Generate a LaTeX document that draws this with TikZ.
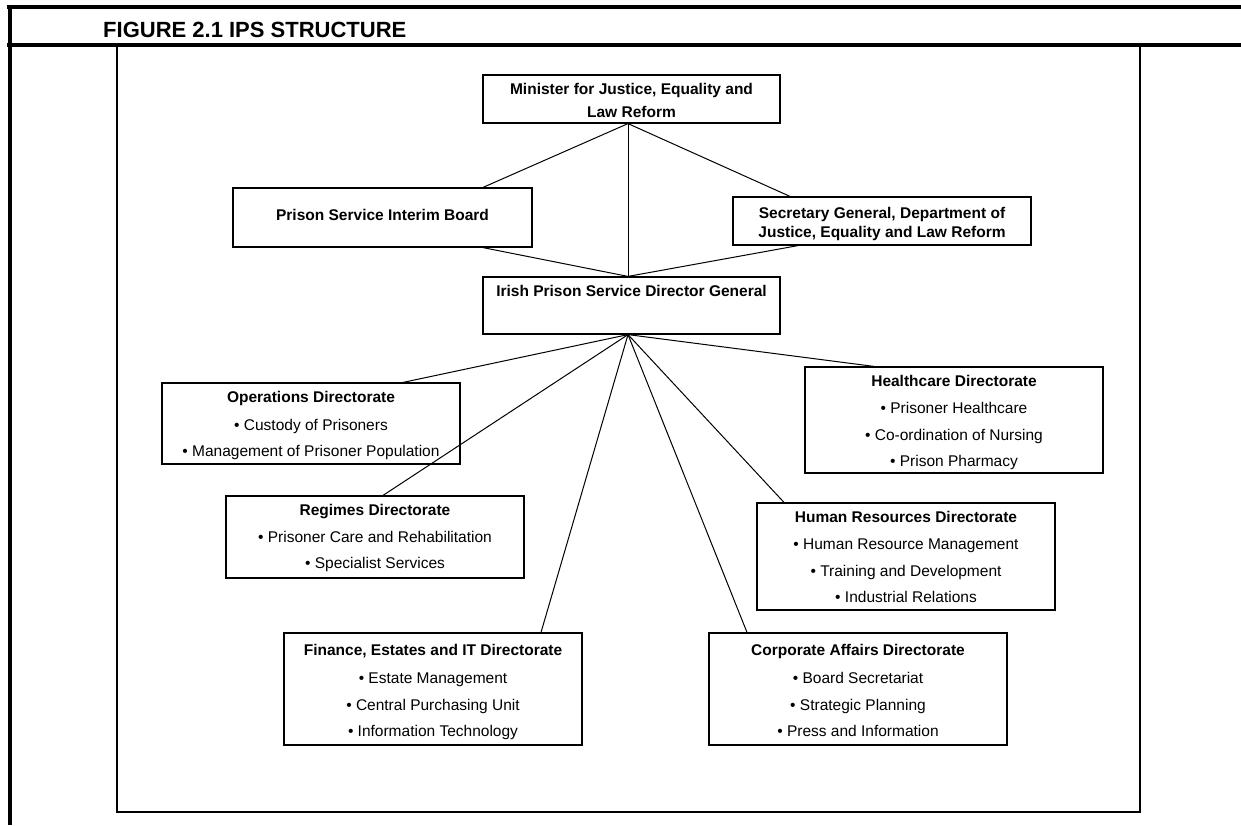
\documentclass[tikz,border=0pt]{standalone}
\usepackage{fontspec}
\setmainfont{Liberation Sans}
\begin{document}
\begin{tikzpicture}[x=1pt,y=-1pt,
  box/.style={draw, line width=1.2pt, rectangle, inner sep=0pt},
  heavy/.style={line width=4.5pt},
  framel/.style={line width=2.2pt},
  link/.style={line width=1pt},
  hd/.style={anchor=base, inner sep=0pt, font=\fontsize{15.5}{19}\selectfont\bfseries},
  it/.style={anchor=base, inner sep=0pt, font=\fontsize{15.5}{19}\selectfont}]
\useasboundingbox (0,0) rectangle (1241,825);
% page rules
\draw[heavy] (7,7) -- (1241,7);
\draw[heavy] (7,45) -- (1241,45);
\draw[heavy] (10,5) -- (10,825);
\node[anchor=base west, inner sep=0pt, font=\fontsize{22}{26}\selectfont\bfseries] (title) at (103,37) {FIGURE 2.1 IPS STRUCTURE};
% frame
\draw[framel] (117,47) -- (117,812) -- (1140,812) -- (1140,47);
% top boxes
\node[box, minimum width=297pt, minimum height=48pt] (min) at (631.5,99) {};
\node[hd] (min1) at (631.5,94) {Minister for Justice, Equality and};
\node[hd] (min2) at (631.5,117) {Law Reform};
\node[box, minimum width=299pt, minimum height=59pt] (ib) at (382.5,217.5) {};
\node[hd] (ibt) at (382.5,220) {Prison Service Interim Board};
\node[box, minimum width=298pt, minimum height=48pt] (sg) at (882,221) {};
\node[hd] (sg1) at (882,218) {Secretary General, Department of};
\node[hd] (sg2) at (882,237) {Justice, Equality and Law Reform};
\node[box, minimum width=297pt, minimum height=57pt] (dg) at (631.5,305.5) {};
\node[hd] (dgt1) at (631.5,296) {Irish Prison Service Director General};
% directorates
\node[box, minimum width=298pt, minimum height=81pt] (ops) at (311,423.5) {};
\node[hd] (ops0) at (311,402) {Operations Directorate};
\node[it] (ops1) at (311,430) {• Custody of Prisoners};
\node[it] (ops2) at (311,456) {• Management of Prisoner Population};
\node[box, minimum width=298pt, minimum height=106pt] (hc) at (954,420) {};
\node[hd] (hc0) at (954,386) {Healthcare Directorate};
\node[it] (hc1) at (954,413) {• Prisoner Healthcare};
\node[it] (hc2) at (954,440) {• Co-ordination of Nursing};
\node[it] (hc3) at (954,466) {• Prison Pharmacy};
\node[box, minimum width=298pt, minimum height=82pt] (rg) at (375,537) {};
\node[hd] (rg0) at (375,515) {Regimes Directorate};
\node[it] (rg1) at (375,542) {• Prisoner Care and Rehabilitation};
\node[it] (rg2) at (375,568) {• Specialist Services};
\node[box, minimum width=298pt, minimum height=107pt] (hr) at (906,556.5) {};
\node[hd] (hr0) at (906,522) {Human Resources Directorate};
\node[it] (hr1) at (906,549) {• Human Resource Management};
\node[it] (hr2) at (906,576) {• Training and Development};
\node[it] (hr3) at (906,602) {• Industrial Relations};
\node[box, minimum width=298pt, minimum height=112pt] (fi) at (433,689) {};
\node[hd] (fi0) at (433,655) {Finance, Estates and IT Directorate};
\node[it] (fi1) at (433,683) {• Estate Management};
\node[it] (fi2) at (433,710) {• Central Purchasing Unit};
\node[it] (fi3) at (433,736) {• Information Technology};
\node[box, minimum width=298pt, minimum height=112pt] (ca) at (858,689) {};
\node[hd] (ca0) at (858,655) {Corporate Affairs Directorate};
\node[it] (ca1) at (858,683) {• Board Secretariat};
\node[it] (ca2) at (858,710) {• Strategic Planning};
\node[it] (ca3) at (858,736) {• Press and Information};
% connector points
\coordinate (mb) at ([xshift=-3.5pt]min.south);
\coordinate (dgtop) at ([xshift=-3.5pt]dg.north);
\coordinate (dgb) at ([xshift=-3.5pt]dg.south);
% connectors
\draw[link] (mb) -- ([xshift=100.5pt]ib.north);
\draw[link] (mb) -- ([xshift=-92pt]sg.north);
\draw[link] (mb) -- (dgtop);
\draw[link] ([xshift=100.5pt]ib.south) -- (dgtop);
\draw[link] ([xshift=-84pt]sg.south) -- (dgtop);
\draw[link] (dgb) -- ([xshift=92pt]ops.north);
\draw[link] (dgb) -- ([xshift=8pt]rg.north);
\draw[link] (dgb) -- ([xshift=108pt]fi.north);
\draw[link] (dgb) -- ([xshift=-111pt]ca.north);
\draw[link] (dgb) -- ([xshift=-122pt]hr.north);
\draw[link] (dgb) -- ([xshift=-80pt]hc.north);
\end{tikzpicture}
\end{document}
